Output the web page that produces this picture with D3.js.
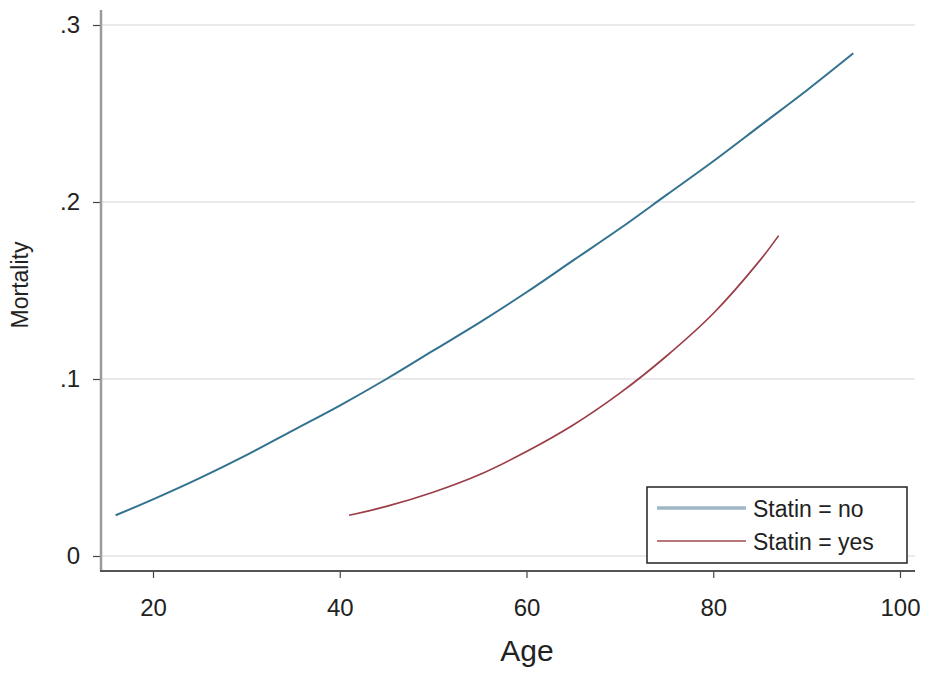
<!DOCTYPE html>
<html>
<head>
<meta charset="utf-8">
<script src="https://cdn.jsdelivr.net/npm/d3@7"></script>
<style>
  body { margin: 0; background: #fff; }
  text { font-family: "Liberation Sans", Arial, sans-serif; fill: #222; }
</style>
</head>
<body>
<div id="chart"></div>
<script>
// values
var ageNo = [16, 20, 25, 30, 35, 40, 45, 50, 55, 60, 65, 70, 75, 80, 85, 90, 95];
var mortNo = [0.023, 0.032, 0.044, 0.057, 0.071, 0.085, 0.100, 0.116, 0.132, 0.149, 0.167, 0.185, 0.204, 0.223, 0.243, 0.263, 0.284];
var ageYes = [41, 45, 50, 55, 60, 65, 70, 75, 80, 85, 87];
var mortYes = [0.023, 0.028, 0.036, 0.046, 0.059, 0.074, 0.092, 0.113, 0.137, 0.167, 0.181];
var xTicks = [20, 40, 60, 80, 100];
var yTicks = [0, 0.1, 0.2, 0.3];
var legendLabels = ["Statin = no", "Statin = yes"];

var svgWidth = 929;
var svgHeight = 675;

var svg = d3.select("#chart")
    .append("svg")
    .attr("width", svgWidth)
    .attr("height", svgHeight);

// scales
var xScale = d3.scaleLinear().domain([20, 100]).range([153, 900]);
var yScale = d3.scaleLinear().domain([0, 0.3]).range([556, 25]);

var plotLeft = 101, plotRight = 915, plotBottom = 571, plotTop = 10;

// gridlines
svg.append("g")
    .selectAll("line")
    .data(yTicks)
    .enter()
    .append("line")
    .attr("x1", plotLeft)
    .attr("x2", plotRight)
    .attr("y1", d => yScale(d))
    .attr("y2", d => yScale(d))
    .attr("stroke", "#e3e3e6")
    .attr("stroke-width", 1.5);

// y axis
var yAxis = svg.append("g")
    .attr("transform", `translate(${plotLeft},0)`)
    .call(d3.axisLeft(yScale)
        .tickValues(yTicks)
        .tickSize(8)
        .tickPadding(13)
        .tickFormat(d => d === 0 ? "0" : d3.format(".1f")(d).replace(/^0/, "")));
yAxis.select(".domain").remove();
yAxis.selectAll(".tick line").attr("stroke", "#444").attr("stroke-width", 1.2);
yAxis.selectAll(".tick text").style("font-size", "24px").attr("fill", "#222");
yAxis.append("line")
    .attr("x1", 0).attr("x2", 0)
    .attr("y1", plotTop).attr("y2", plotBottom)
    .attr("stroke", "#9a9a9a")
    .attr("stroke-width", 2.5);

// x axis
var xAxis = svg.append("g")
    .attr("transform", `translate(0,${plotBottom})`)
    .call(d3.axisBottom(xScale)
        .tickValues(xTicks)
        .tickSize(7)
        .tickPadding(21));
xAxis.select(".domain").remove();
xAxis.selectAll(".tick line").attr("stroke", "#444").attr("stroke-width", 1.2);
xAxis.selectAll(".tick text").style("font-size", "24px").attr("fill", "#222");
xAxis.append("line")
    .attr("x1", plotLeft - 1).attr("x2", plotRight)
    .attr("y1", 0).attr("y2", 0)
    .attr("stroke", "#555")
    .attr("stroke-width", 1.8);

// axis titles
svg.append("text")
    .attr("x", 527)
    .attr("y", 661)
    .attr("text-anchor", "middle")
    .style("font-size", "30px")
    .text("Age");
svg.append("text")
    .attr("transform", "translate(28,285)rotate(-90)")
    .attr("text-anchor", "middle")
    .style("font-size", "23px")
    .text("Mortality");

// curves
var line = d3.line()
    .x(d => xScale(d[0]))
    .y(d => yScale(d[1]))
    .curve(d3.curveCatmullRom);

svg.append("path")
    .datum(ageNo.map((a, i) => [a, mortNo[i]]))
    .attr("d", line)
    .attr("fill", "none")
    .attr("stroke", "#33728f")
    .attr("stroke-width", 2);

svg.append("path")
    .datum(ageYes.map((a, i) => [a, mortYes[i]]))
    .attr("d", line)
    .attr("fill", "none")
    .attr("stroke", "#9b3d46")
    .attr("stroke-width", 1.7);

// legend
var legend = svg.append("g").attr("transform", "translate(647,487)");
legend.append("rect")
    .attr("width", 260)
    .attr("height", 76)
    .attr("fill", "#fff")
    .attr("stroke", "#222")
    .attr("stroke-width", 1.5);
var legendColors = ["#9fb7c7", "#a24a50"];
var legendWidths = [3.5, 1.6];
legendLabels.forEach((lab, i) => {
    var y = 21 + i * 33;
    legend.append("line")
        .attr("x1", 10).attr("x2", 99)
        .attr("y1", y).attr("y2", y)
        .attr("stroke", legendColors[i])
        .attr("stroke-width", legendWidths[i]);
    legend.append("text")
        .attr("x", 106)
        .attr("y", y + 9)
        .style("font-size", "23px")
        .text(lab);
});
</script>
</body>
</html>
